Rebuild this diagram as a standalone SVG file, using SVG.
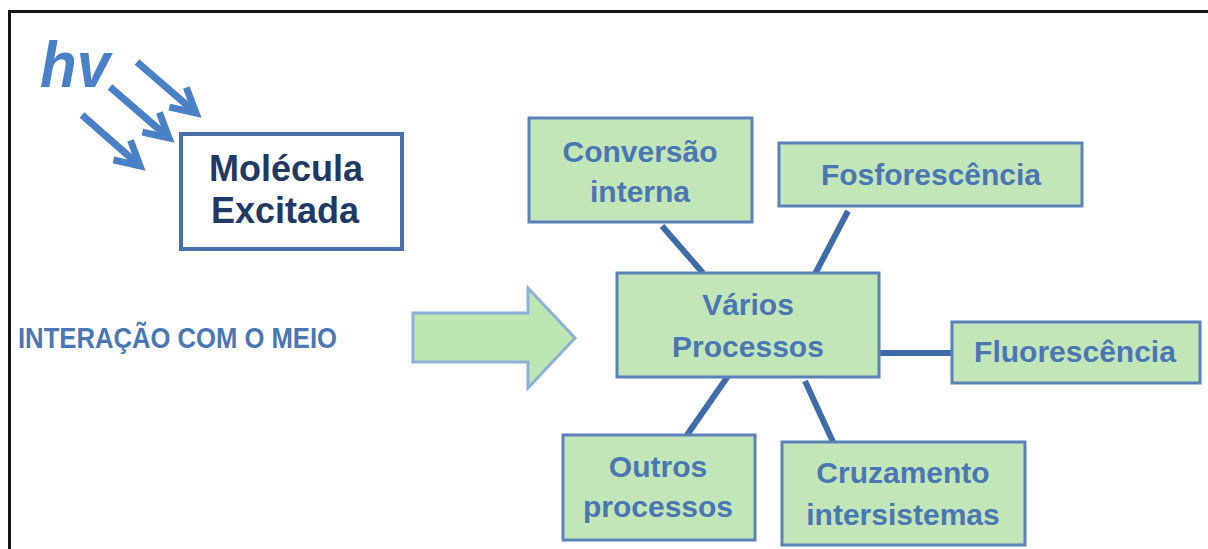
<svg xmlns="http://www.w3.org/2000/svg" width="1208" height="549" viewBox="0 0 1208 549">
<defs>
<style>
.box{fill:#c3e6b8;stroke:#5a82b8;stroke-width:3}
.lbl{font-family:"Liberation Sans",Arial,sans-serif;font-weight:bold;font-size:30px;fill:#4a77b4;text-anchor:middle}
.con{stroke:#3e6ca8;stroke-width:6;fill:none}
.hv{stroke:#4a80c6;stroke-width:7;fill:none}
</style>
<marker id="vhead" markerUnits="userSpaceOnUse" markerWidth="60" markerHeight="60" refX="0" refY="0" orient="auto" overflow="visible">
<path d="M-24,-13 L0,0 L-24,13" fill="none" stroke="#4a80c6" stroke-width="7" stroke-linejoin="miter"/>
</marker>
</defs>
<rect width="1208" height="549" fill="#ffffff"/>
<path d="M9.5,549 L9.5,11.5 L1208,11.5" fill="none" stroke="#151515" stroke-width="3"/>

<g id="photons">
<text x="40" y="87" font-family="Liberation Sans,Arial,sans-serif" font-weight="bold" font-style="italic" font-size="64" fill="#4a80c6" textLength="70" lengthAdjust="spacingAndGlyphs">hv</text>
<line class="hv" x1="137" y1="62" x2="196" y2="113" marker-end="url(#vhead)"/>
<line class="hv" x1="110" y1="87" x2="169" y2="138" marker-end="url(#vhead)"/>
<line class="hv" x1="82" y1="115" x2="140" y2="166" marker-end="url(#vhead)"/>
</g>

<g id="molecula">
<rect x="181" y="134" width="221" height="115" fill="#ffffff" stroke="#4a6fa8" stroke-width="4"/>
<text x="286" y="181" font-family="Liberation Sans,Arial,sans-serif" font-weight="bold" font-size="36" fill="#1f3864" text-anchor="middle">Molécula</text>
<text x="285" y="223" font-family="Liberation Sans,Arial,sans-serif" font-weight="bold" font-size="36" fill="#1f3864" text-anchor="middle">Excitada</text>
</g>

<g id="interacao">
<text x="18" y="348" font-family="Liberation Sans,Arial,sans-serif" font-weight="bold" font-size="29" fill="#4a77b4" textLength="319" lengthAdjust="spacingAndGlyphs">INTERAÇÃO COM O MEIO</text>
<polygon points="413,313 528,313 528,288 575,338 528,388 528,362 413,362" fill="#bde6b3" stroke="#8db0d6" stroke-width="3" stroke-linejoin="miter"/>
</g>

<g id="connectors">
<line class="con" x1="662" y1="226" x2="703" y2="273"/>
<line class="con" x1="848" y1="211" x2="815" y2="274"/>
<line class="con" x1="879" y1="353" x2="952" y2="353" stroke-width="7"/>
<line class="con" x1="728" y1="376" x2="687" y2="435"/>
<line class="con" x1="805" y1="381" x2="833" y2="442"/>
</g>

<g id="conversao">
<rect class="box" x="529" y="118" width="223" height="104"/>
<text class="lbl" x="640" y="162">Conversão</text>
<text class="lbl" x="640" y="202">interna</text>
</g>

<g id="fosforescencia">
<rect class="box" x="779" y="143" width="303" height="63"/>
<text class="lbl" x="931" y="185">Fosforescência</text>
</g>

<g id="varios">
<rect class="box" x="617" y="273" width="262" height="104"/>
<text class="lbl" x="748" y="315">Vários</text>
<text class="lbl" x="748" y="357">Processos</text>
</g>

<g id="fluorescencia">
<rect class="box" x="952" y="322" width="248" height="61"/>
<text class="lbl" x="1075" y="362">Fluorescência</text>
</g>

<g id="outros">
<rect class="box" x="563" y="435" width="192" height="105"/>
<text class="lbl" x="658" y="477">Outros</text>
<text class="lbl" x="658" y="517">processos</text>
</g>

<g id="cruzamento">
<rect class="box" x="782" y="442" width="243" height="103"/>
<text class="lbl" x="903" y="483">Cruzamento</text>
<text class="lbl" x="903" y="525">intersistemas</text>
</g>
</svg>
